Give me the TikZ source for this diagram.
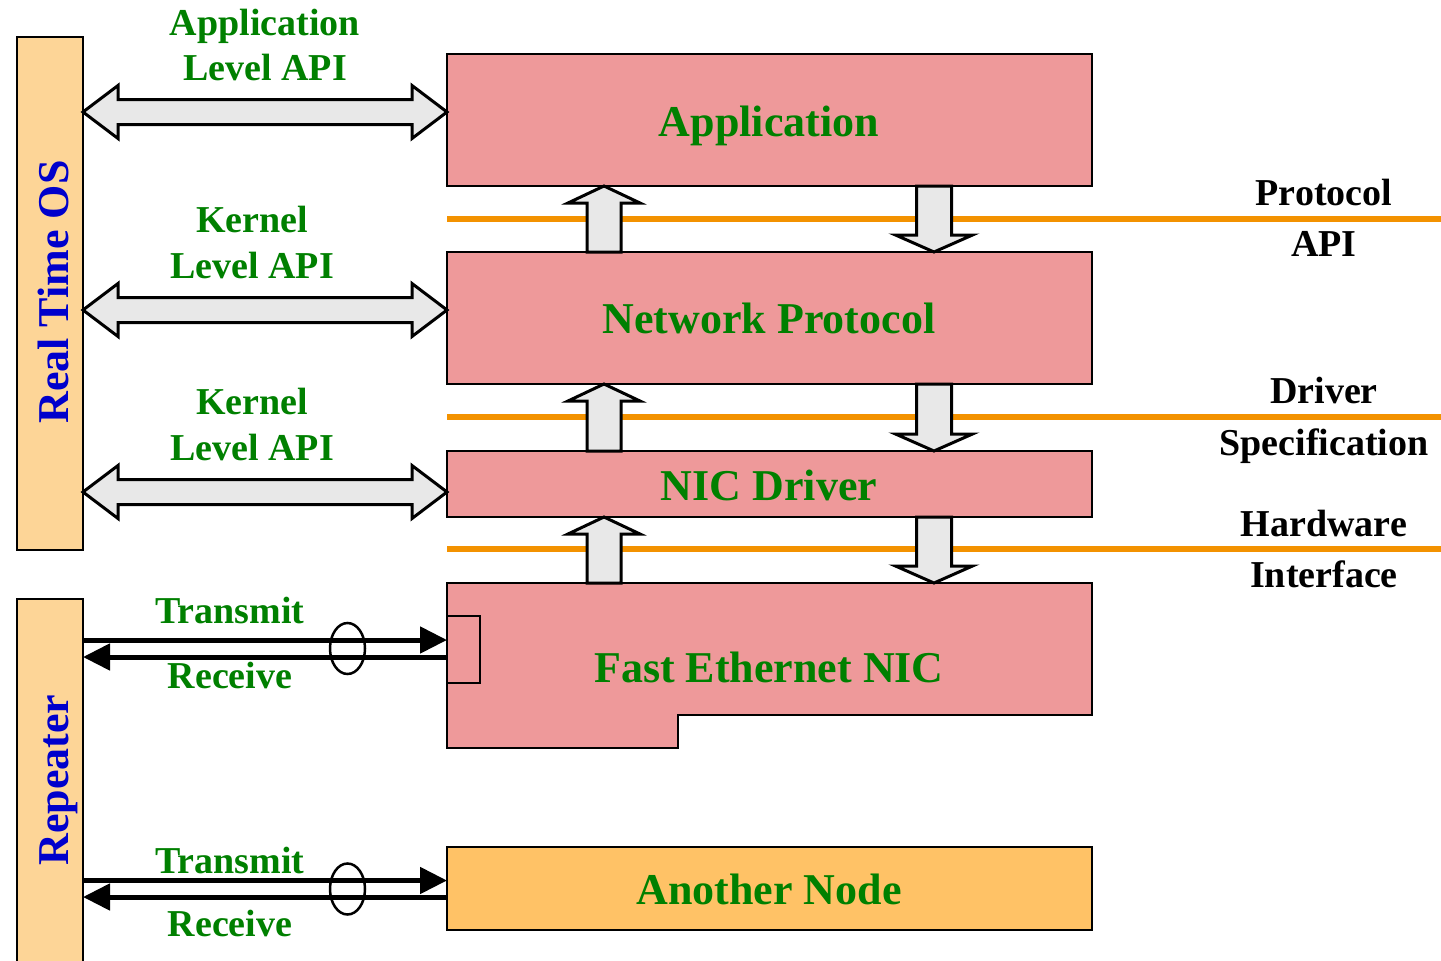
\documentclass[tikz,border=0pt]{standalone}
\usepackage{fontspec}
\setmainfont{Liberation Serif}
\usetikzlibrary{arrows.meta,calc,shapes.geometric}

\definecolor{boxpink}{HTML}{EE999A}
\definecolor{barfill}{HTML}{FDD597}
\definecolor{nodefill}{HTML}{FFC266}
\definecolor{layerorange}{HTML}{F39200}
\definecolor{arrowgray}{HTML}{E8E8E8}
\definecolor{labelgreen}{HTML}{008000}
\definecolor{labelblue}{HTML}{0000CC}

% Horizontal block arrow with heads at both ends: #1 left end, #2 right end, #3 height (y)
\newcommand\DoubleArrow[3]{%
  \draw[fatarrow] let \p1=(#1), \p2=(#2), \p3=(0,#3) in
    (\x1,\y3) -- (\x1+35pt,\y3+26.5pt) -- (\x1+35pt,\y3+12.5pt)
    -- (\x2-35pt,\y3+12.5pt) -- (\x2-35pt,\y3+26.5pt) -- (\x2,\y3)
    -- (\x2-35pt,\y3-26.5pt) -- (\x2-35pt,\y3-12.5pt)
    -- (\x1+35pt,\y3-12.5pt) -- (\x1+35pt,\y3-26.5pt) -- cycle;}
% Upward block arrow: #1 lower box anchor, #2 upper box anchor, #3 centre x
\newcommand\UpArrow[3]{%
  \draw[fatarrow] let \p1=(#1), \p2=(#2), \p3=(#3,0) in
    (\x3-17pt,\y1) -- (\x3-17pt,\y2-17pt) -- (\x3-36pt,\y2-17pt) -- (\x3,\y2)
    -- (\x3+36pt,\y2-17pt) -- (\x3+17pt,\y2-17pt) -- (\x3+17pt,\y1) -- cycle;}
% Downward block arrow: #1 upper box anchor, #2 lower box anchor, #3 centre x
\newcommand\DownArrow[3]{%
  \draw[fatarrow] let \p1=(#1), \p2=(#2), \p3=(#3,0) in
    (\x3-17.5pt,\y1) -- (\x3-17.5pt,\y2+17pt) -- (\x3-38.5pt,\y2+17pt) -- (\x3,\y2)
    -- (\x3+38.5pt,\y2+17pt) -- (\x3+17.5pt,\y2+17pt) -- (\x3+17.5pt,\y1) -- cycle;}

\begin{document}
\begin{tikzpicture}[x=1pt,y=-1pt,
  layerbox/.style={draw=black, line width=2.5pt, fill=boxpink, inner sep=0pt,
    outer sep=0pt, anchor=north west, minimum width=645},
  sidebar/.style={draw=black, line width=2.5pt, fill=barfill, inner sep=0pt,
    outer sep=0pt, anchor=north west, minimum width=66},
  boxtitle/.style={text=labelgreen, font=\fontsize{44}{50}\selectfont\bfseries,
    anchor=base, inner sep=0pt},
  apilabel/.style={text=labelgreen, font=\fontsize{38}{46}\selectfont\bfseries,
    anchor=base, inner sep=0pt},
  iflabel/.style={text=black, font=\fontsize{38}{46}\selectfont\bfseries,
    anchor=base, inner sep=0pt},
  barlabel/.style={text=labelblue, font=\fontsize{44}{50}\selectfont\bfseries,
    anchor=base, rotate=90, inner sep=0pt},
  fatarrow/.style={draw=black, line width=3pt, fill=arrowgray, line join=miter},
  layerline/.style={draw=layerorange, line width=6pt},
  wire/.style={line width=5pt, -{Triangle[length=27pt,width=26pt]}},
  bundle/.style={ellipse, draw=black, line width=2.5pt, minimum width=35,
    minimum height=51, inner sep=0pt}]

\clip (0,0) rectangle (1441,961);
\fill[white] (0,0) rectangle (1441,961);

% side bars
\node[sidebar, minimum height=513] (rtos) at (17,37) {};
\node[sidebar, minimum height=400] (rep) at (17,599) {};
\node[barlabel] (rtoslbl) at (68,292) {Real Time OS};
\node[barlabel] (replbl) at (68,780) {Repeater};

% protocol stack
\node[layerbox, minimum height=132] (app) at (447,54) {};
\node[layerbox, minimum height=132] (np) at (447,252) {};
\node[layerbox, minimum height=66] (drv) at (447,451) {};
\node[anchor=north west, minimum width=645, minimum height=132, inner sep=0pt,
  outer sep=0pt] (nic) at (447,583) {};
\draw[line width=2.5pt, fill=boxpink] (nic.north west) -- (nic.north east)
  -- (nic.south east) -- (678,715) -- (678,748) -- (447,748) -- cycle;
\node[draw=black, line width=2.5pt, fill=boxpink, anchor=north west, inner sep=0pt,
  outer sep=0pt, minimum width=33, minimum height=67] (port) at (447,616) {};
\node[layerbox, fill=nodefill, minimum height=83] (other) at (447,847) {};

\node[boxtitle] (apptxt) at (769,136) {Application};
\node[boxtitle] (nptxt) at (769,333) {Network Protocol};
\node[boxtitle] (drvtxt) at (769,500) {NIC Driver};
\node[boxtitle] (nictxt) at (769,682) {Fast Ethernet NIC};
\node[boxtitle] (othertxt) at (769,904) {Another Node};

% interface layers
\draw[layerline] (app.south west |- 0,219) -- (1441,219);
\draw[layerline] (np.south west |- 0,417) -- (1441,417);
\draw[layerline] (drv.south west |- 0,549) -- (1441,549);

\node[iflabel] (pa1) at (1324,205) {Protocol};
\node[iflabel] (pa2) at (1324,256) {API};
\node[iflabel] (ds1) at (1324,403) {Driver};
\node[iflabel] (ds2) at (1324,455) {Specification};
\node[iflabel] (hi1) at (1324,536) {Hardware};
\node[iflabel] (hi2) at (1324,587) {Interface};

% data flow between layers
\UpArrow{np.north}{app.south}{604}
\DownArrow{app.south}{np.north}{934}
\UpArrow{drv.north}{np.south}{604}
\DownArrow{np.south}{drv.north}{934}
\UpArrow{nic.north}{drv.south}{604}
\DownArrow{drv.south}{nic.north}{934}

% OS interfaces
\DoubleArrow{rtos.east}{app.west}{112}
\DoubleArrow{rtos.east}{np.west}{310}
\DoubleArrow{rtos.east}{drv.west}{492}

\node[apilabel] (al1) at (265,35) {Application};
\node[apilabel] (al2) at (265,80) {Level API};
\node[apilabel] (kl1) at (252,232) {Kernel};
\node[apilabel] (kl2) at (252,278) {Level API};
\node[apilabel] (kd1) at (252,414) {Kernel};
\node[apilabel] (kd2) at (252,460) {Level API};

% links to the repeater
\draw[wire] (rep.east |- 0,640) -- (port.west |- 0,640);
\draw[wire] (port.west |- 0,657) -- (rep.east |- 0,657);
\node[bundle] (link1) at (347.5,648.5) {};
\node[apilabel] (tx1) at (230,623) {Transmit};
\node[apilabel] (rx1) at (230,688) {Receive};

\draw[wire] (rep.east |- 0,880.5) -- (other.west |- 0,880.5);
\draw[wire] (other.west |- 0,897) -- (rep.east |- 0,897);
\node[bundle] (link2) at (347.5,889) {};
\node[apilabel] (tx2) at (230,873) {Transmit};
\node[apilabel] (rx2) at (230,936) {Receive};
\end{tikzpicture}
\end{document}
